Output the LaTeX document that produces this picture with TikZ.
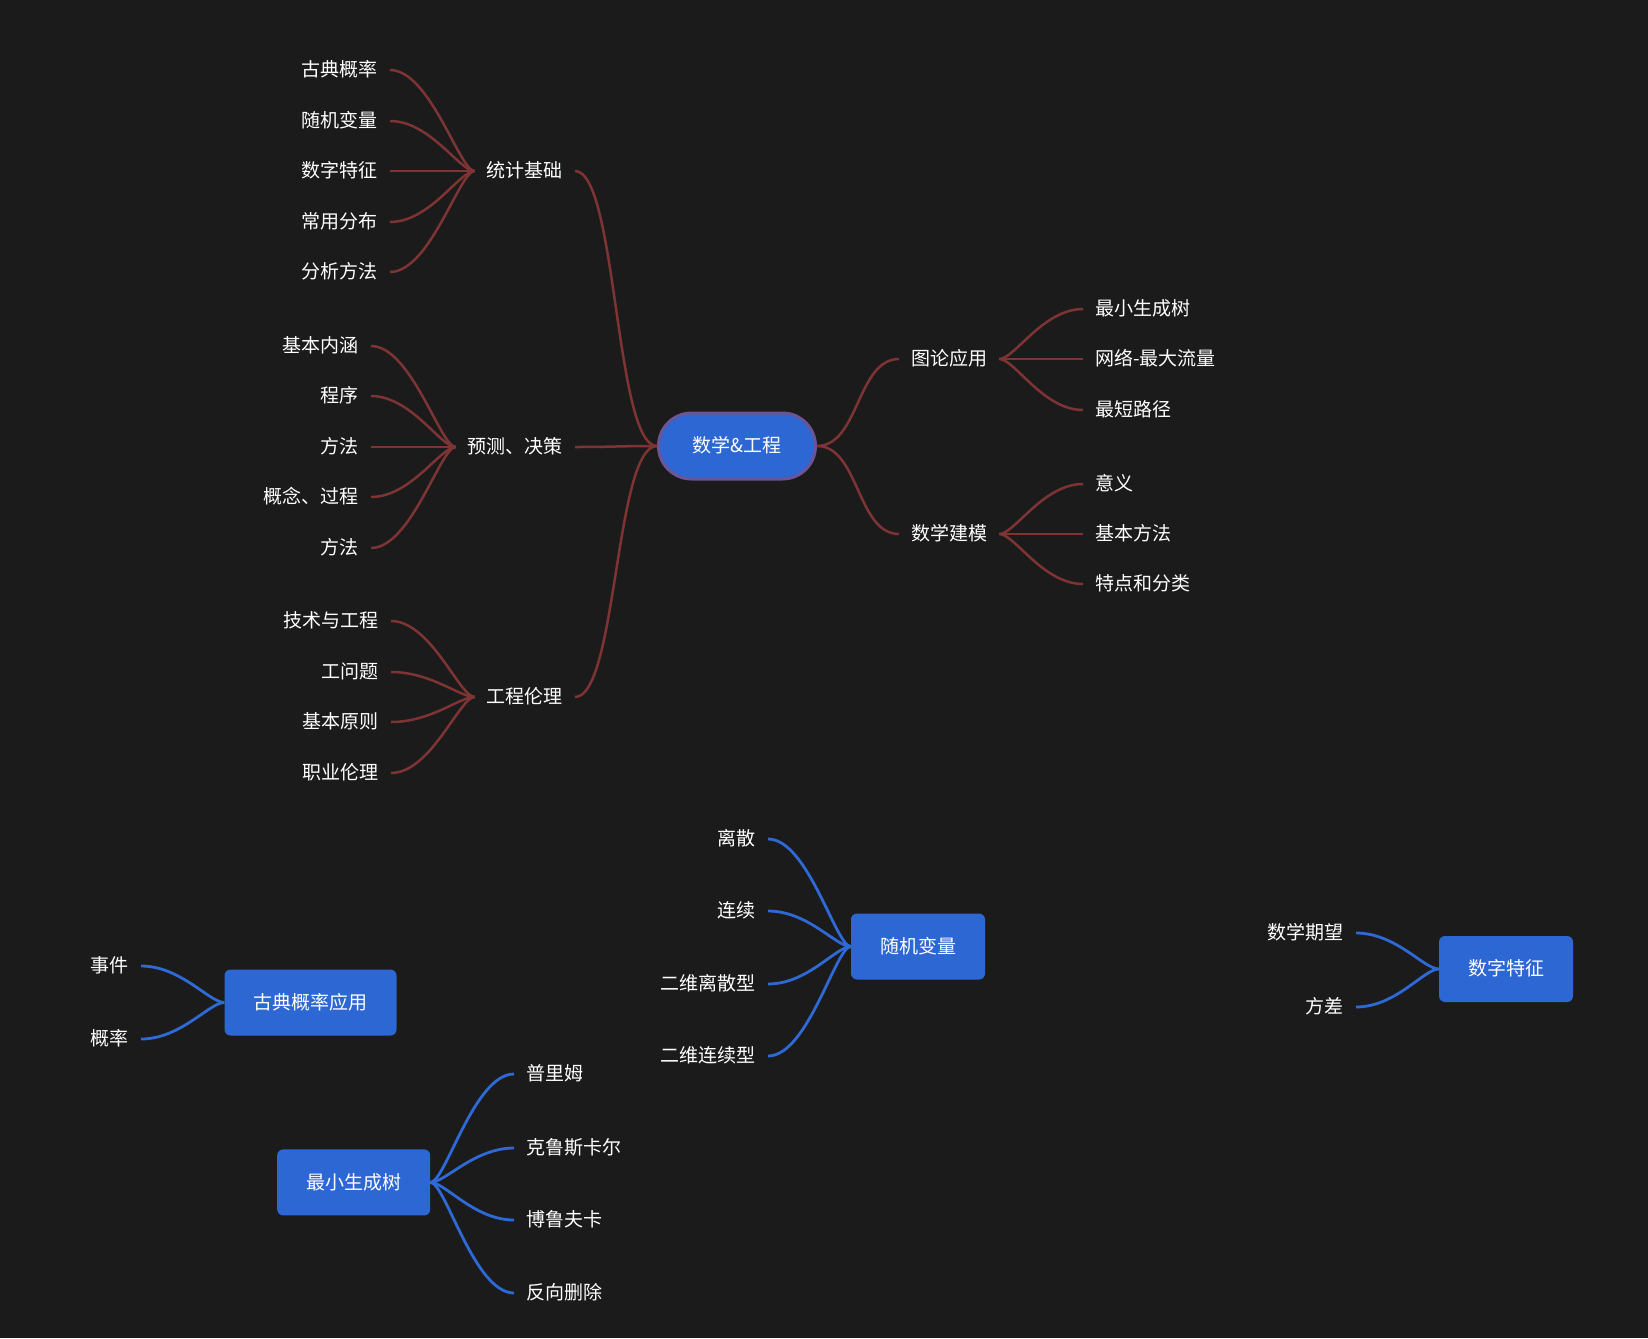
\documentclass[tikz,border=0pt]{standalone}
\usepackage{fontspec}
\setmainfont{Noto Sans CJK SC}
\usepackage{tikz}
\usetikzlibrary{positioning}
\definecolor{BgDark}{HTML}{1B1B1B}
\definecolor{NodeBlue}{HTML}{2D67D3}
\definecolor{RootRim}{HTML}{6B5597}
\definecolor{LinkRed}{HTML}{7E3434}
\definecolor{LinkBlue}{HTML}{2E69D6}
\tikzset{
  % Plain text
  TX/.style={text=white,inner xsep=12pt,inner ysep=0pt,
             text height=1.36em,text depth=0em,
             font=\fontsize{19}{22}\selectfont},
  lf/.style={TX,anchor=east},
  rt/.style={TX,anchor=west},
  % Centre topic
  RT/.style={TX,rectangle,rounded corners=33pt,
             minimum width=157pt,minimum height=66pt,
             fill=NodeBlue,draw=RootRim,line width=3pt},
  % Floating topics
  BX/.style={TX,rectangle,rounded corners=6pt,inner xsep=29pt,
             minimum height=66pt,fill=NodeBlue},
  % Links
  lR/.style={draw=LinkRed,line width=2.5pt},
  lB/.style={draw=LinkBlue,line width=2.8pt}
}

\begin{document}
\begin{tikzpicture}[x=1pt,y=-1pt]
  \fill[BgDark] (0,0) rectangle (1648,1338);

  % main map
  \node[RT] (root) at (737,446) {数学\&工程};

  \node[lf] (tjjc) at (575,171) {统计基础};
  \node[lf] (yccc) at (575,447) {预测、决策};
  \node[lf] (gcll) at (575,697) {工程伦理};
  \node[rt] (tlyy) at (899,359) {图论应用};
  \node[rt] (sxjm) at (899,534) {数学建模};

  \node[lf] (tj1) at (390,70)  {古典概率};
  \node[lf] (tj2) at (390,121) {随机变量};
  \node[lf] (tj3) at (390,171) {数字特征};
  \node[lf] (tj4) at (390,222) {常用分布};
  \node[lf] (tj5) at (390,272) {分析方法};

  \node[lf] (yc1) at (371,346) {基本内涵};
  \node[lf] (yc2) at (371,396) {程序};
  \node[lf] (yc3) at (371,447) {方法};
  \node[lf] (yc4) at (371,497) {概念、过程};
  \node[lf] (yc5) at (371,548) {方法};

  \node[lf] (gc1) at (391,621) {技术与工程};
  \node[lf] (gc2) at (391,672) {工问题};
  \node[lf] (gc3) at (391,722) {基本原则};
  \node[lf] (gc4) at (391,773) {职业伦理};

  \node[rt] (tl1) at (1083,309) {最小生成树};
  \node[rt] (tl2) at (1083,359) {网络-最大流量};
  \node[rt] (tl3) at (1083,410) {最短路径};

  \node[rt] (jm1) at (1083,484) {意义};
  \node[rt] (jm2) at (1083,534) {基本方法};
  \node[rt] (jm3) at (1083,584) {特点和分类};

  \draw[lR] (root.west) .. controls +(-42,0) and +(42,0) .. (tjjc.east);
  \draw[lR] (root.west) .. controls +(-42,0) and +(42,0) .. (yccc.east);
  \draw[lR] (root.west) .. controls +(-42,0) and +(42,0) .. (gcll.east);
  \draw[lR] (root.east) .. controls +(42,0) and +(-42,0) .. (tlyy.west);
  \draw[lR] (root.east) .. controls +(42,0) and +(-42,0) .. (sxjm.west);

  \foreach \c in {tj1,tj2,tj3,tj4,tj5}
    \draw[lR] (tjjc.west) .. controls +(-15,0) and +(40,0) .. (\c.east);
  \foreach \c in {yc1,yc2,yc3,yc4,yc5}
    \draw[lR] (yccc.west) .. controls +(-15,0) and +(40,0) .. (\c.east);
  \foreach \c in {gc1,gc2,gc3,gc4}
    \draw[lR] (gcll.west) .. controls +(-15,0) and +(40,0) .. (\c.east);
  \foreach \c in {tl1,tl2,tl3}
    \draw[lR] (tlyy.east) .. controls +(15,0) and +(-40,0) .. (\c.west);
  \foreach \c in {jm1,jm2,jm3}
    \draw[lR] (sxjm.east) .. controls +(15,0) and +(-40,0) .. (\c.west);

  % floating topics
  \node[BX] (gdgl)  at (310.5,1002.5) {古典概率应用};
  \node[lf] (gd1) at (141,966)  {事件};
  \node[lf] (gd2) at (141,1039) {概率};

  \node[BX] (sjbl)  at (918,946.5) {随机变量};
  \node[lf] (bl1) at (768,839)  {离散};
  \node[lf] (bl2) at (768,911)  {连续};
  \node[lf] (bl3) at (768,984)  {二维离散型};
  \node[lf] (bl4) at (768,1056) {二维连续型};

  \node[BX] (sztz)  at (1506,969) {数字特征};
  \node[lf] (tz1) at (1356,933)  {数学期望};
  \node[lf] (tz2) at (1356,1007) {方差};

  \node[BX] (zxscs) at (353.7,1182.4) {最小生成树};
  \node[rt] (sc1) at (514,1074) {普里姆};
  \node[rt] (sc2) at (514,1148) {克鲁斯卡尔};
  \node[rt] (sc3) at (514,1220) {博鲁夫卡};
  \node[rt] (sc4) at (514,1293) {反向删除};

  \foreach \c in {gd1,gd2}
    \draw[lB] (gdgl.west) .. controls +(-15,0) and +(40,0) .. (\c.east);
  \foreach \c in {bl1,bl2,bl3,bl4}
    \draw[lB] (sjbl.west) .. controls +(-15,0) and +(40,0) .. (\c.east);
  \foreach \c in {tz1,tz2}
    \draw[lB] (sztz.west) .. controls +(-15,0) and +(40,0) .. (\c.east);
  \foreach \c in {sc1,sc2,sc3,sc4}
    \draw[lB] (zxscs.east) .. controls +(15,0) and +(-40,0) .. (\c.west);
\end{tikzpicture}
\end{document}
